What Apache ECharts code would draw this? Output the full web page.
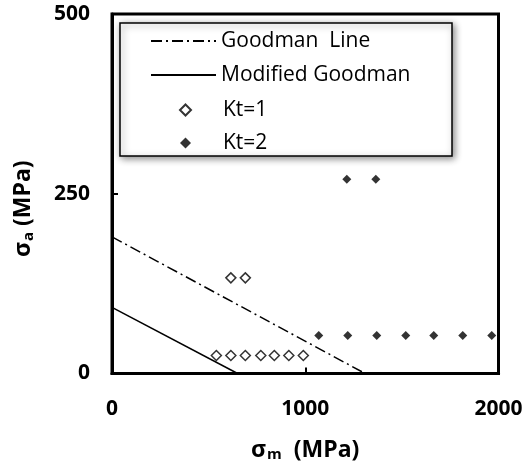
<!DOCTYPE html>
<html>
<head>
<meta charset="utf-8">
<script src="https://cdn.jsdelivr.net/npm/echarts@6/dist/echarts.min.js"></script>
<style>html,body{margin:0;padding:0;background:#fff}#c{width:526px;height:461px}</style>
</head>
<body>
<div id="c"></div>
<script>
// Data
const goodmanLine = [[0, 190], [1310, 0]];
const modifiedGoodman = [[0, 92], [650, 0]];
const kt1 = [[540, 25], [615, 25], [690, 25], [770, 25], [840, 25], [915, 25], [990, 25], [615, 133], [690, 133]];
const kt2 = [[1070, 53], [1220, 53], [1370, 53], [1520, 53], [1665, 53], [1815, 53], [1965, 53], [1215, 270], [1365, 270]];
const seriesNames = ['Goodman  Line', 'Modified Goodman', 'Kt=1', 'Kt=2'];
const xTicks = [0, 1000, 2000];
const yTicks = [0, 250, 500];

const FONT = '"Open Sans", "DejaVu Sans", sans-serif';
const titleRich = {
  s: {fontFamily: FONT, fontSize: 23, fontWeight: 'bold', color: '#000'},
  sub: {fontFamily: FONT, fontSize: 15, fontWeight: 'bold', color: '#000', verticalAlign: 'bottom', padding: [10, 0, 0, 1]}
};
const legendText = {fontFamily: FONT, fontSize: 21, color: '#000', lineHeight: 22};
const chart = echarts.init(document.getElementById('c'), null, {renderer: 'canvas'});
chart.setOption({
  animation: false,
  backgroundColor: '#fff',
  grid: {left: 112, right: 27.5, top: 14, bottom: 87.5, show: true, borderColor: '#000', borderWidth: 3, containLabel: false, outerBoundsMode: 'none'},
  graphic: [{
    type: 'rect', z: 3,
    shape: {x: 120, y: 23, width: 332, height: 133},
    style: {fill: '#fff', stroke: '#000', lineWidth: 1.5, shadowBlur: 7, shadowColor: 'rgba(0,0,0,0.45)', shadowOffsetX: 2, shadowOffsetY: 2}
  }],
  legend: [{
    z: 5,
    orient: 'vertical', left: 120, top: 29,
    padding: [1, 0, 0, 30],
    itemWidth: 65, itemHeight: 11, itemGap: 12,
    textStyle: legendText,
    data: [
      {name: seriesNames[0], itemStyle: {opacity: 0}},
      {name: seriesNames[1], itemStyle: {opacity: 0}}
    ]
  }, {
    z: 5,
    orient: 'vertical', left: 120, top: 98,
    padding: [1, 0, 0, 59],
    itemWidth: 11, itemHeight: 11, itemGap: 11,
    textStyle: Object.assign({}, legendText, {padding: [0, 0, 0, 27]}),
    data: [
      {name: seriesNames[2]},
      {name: seriesNames[3]}
    ]
  }],
  xAxis: {
    type: 'value', min: 0, max: 2000, interval: 1000,
    name: '{s|σ}{sub|m}{s|  (MPa)}', nameLocation: 'middle', nameGap: 64,
    nameTextStyle: {rich: titleRich},
    axisLine: {show: true, lineStyle: {color: '#000', width: 3}},
    axisTick: {show: true, inside: true, length: 6, lineStyle: {color: '#000', width: 2}},
    axisLabel: {margin: 25, fontFamily: FONT, fontSize: 21, fontWeight: 'bold', color: '#000', formatter: v => xTicks.includes(v) ? String(v) : ''},
    splitLine: {show: false}
  },
  yAxis: {
    type: 'value', min: 0, max: 500, interval: 250,
    name: '{s|σ}{sub|a}{s| (MPa)}', nameLocation: 'middle', nameGap: 76, nameRotate: 90,
    nameTextStyle: {padding: [0, 30, 0, 0], rich: titleRich},
    axisLine: {show: true, lineStyle: {color: '#000', width: 3}},
    axisTick: {show: true, inside: true, length: 6, lineStyle: {color: '#000', width: 2}},
    axisLabel: {margin: 22, fontFamily: FONT, fontSize: 21, fontWeight: 'bold', color: '#000', formatter: v => yTicks.includes(v) ? String(v) : ''},
    splitLine: {show: false}
  },
  series: [
    {name: seriesNames[0], type: 'line', data: goodmanLine, symbol: 'none', z: 2,
     lineStyle: {color: '#000', width: 1.5, type: [11, 4, 2, 4]}, itemStyle: {color: '#000'}},
    {name: seriesNames[1], type: 'line', data: modifiedGoodman, symbol: 'none', z: 2,
     lineStyle: {color: '#000', width: 1.5, type: 'solid'}, itemStyle: {color: '#000'}},
    {name: seriesNames[2], type: 'scatter', data: kt1, symbol: 'diamond', symbolSize: 10, z: 2,
     itemStyle: {color: '#fff', borderColor: '#000', borderWidth: 1.5}},
    {name: seriesNames[3], type: 'scatter', data: kt2, symbol: 'diamond', symbolSize: 9, z: 2,
     itemStyle: {color: '#000', borderColor: '#000', borderWidth: 0}}
  ]
});
</script>
</body>
</html>
